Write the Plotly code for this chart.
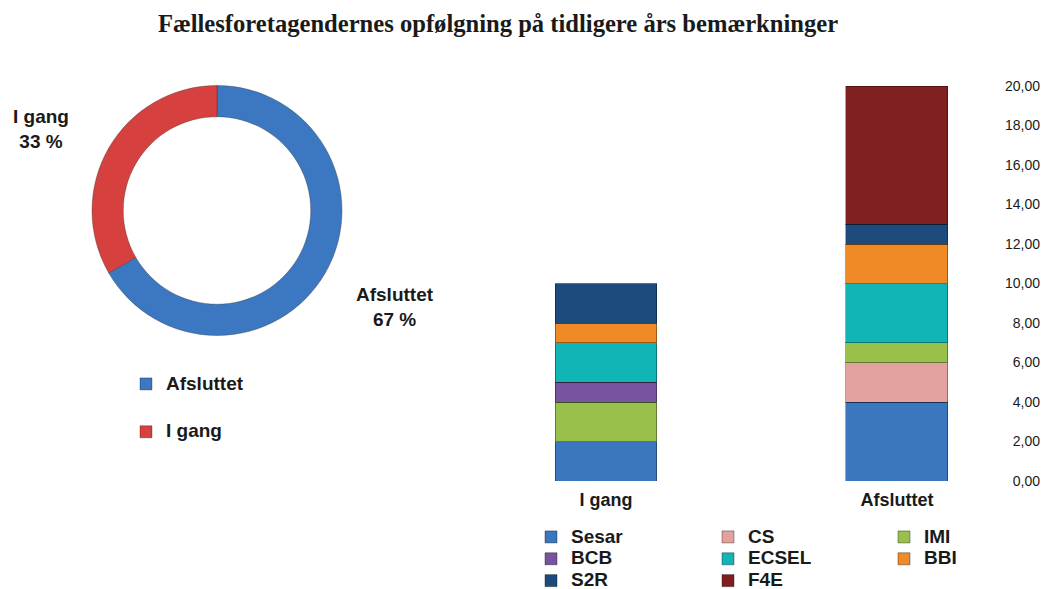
import plotly.graph_objects as go

title = "Fællesforetagendernes opfølgning på tidligere års bemærkninger"

# Donut data
status_labels = ["Afsluttet", "I gang"]
status_values = [20, 10]
status_colors = ["#3b78c1", "#d6413f"]

# Stacked bar data
bar_categories = ["I gang", "Afsluttet"]
series_names = ["Sesar", "CS", "IMI", "BCB", "ECSEL", "BBI", "S2R", "F4E"]
series_values = {
    "Sesar": [2, 4],
    "CS": [0, 2],
    "IMI": [2, 1],
    "BCB": [1, 0],
    "ECSEL": [2, 3],
    "BBI": [1, 2],
    "S2R": [2, 1],
    "F4E": [0, 7],
}
series_colors = {
    "Sesar": "#3a77bf",
    "CS": "#e3a2a0",
    "IMI": "#98c04a",
    "BCB": "#7753a0",
    "ECSEL": "#12b5b5",
    "BBI": "#f08a26",
    "S2R": "#1d4b7d",
    "F4E": "#7f1f1f",
}
legend_slot = {
    "Sesar": "legend2", "BCB": "legend2", "S2R": "legend2",
    "CS": "legend3", "ECSEL": "legend3", "F4E": "legend3",
    "IMI": "legend4", "BBI": "legend4",
}
y_ticks = [0, 2, 4, 6, 8, 10, 12, 14, 16, 18, 20]

W, H = 1056, 589
FONT = "Liberation Sans, Arial, sans-serif"

def px_x(p):
    return p / W

def px_y(p):
    return 1 - p / H

def big(txt, size=19):
    return f'<span style="font-size:{size}px">{txt}</span>'

fig = go.Figure()

# Stacked bars
for name in series_names:
    fig.add_trace(go.Bar(
        x=bar_categories, y=series_values[name], name=big(name),
        marker=dict(color=series_colors[name], line=dict(color="rgba(0,0,0,0.35)", width=1)),
        legend=legend_slot[name],
    ))

# Donut
fig.add_trace(go.Pie(
    labels=status_labels, values=status_values, hole=0.75,
    sort=False, direction="clockwise", rotation=0,
    marker=dict(colors=status_colors, line=dict(color="rgba(40,40,40,0.35)", width=1)),
    textinfo="none", showlegend=False, hoverinfo="label+percent",
    domain=dict(x=[px_x(92), px_x(342)], y=[px_y(336), px_y(85)]),
))

# Legend entries for the donut
for lab, col in zip(status_labels, status_colors):
    fig.add_trace(go.Scatter(
        x=[None], y=[None], mode="markers", name=big(lab),
        marker=dict(symbol="square", size=12, color=col, line=dict(color="rgba(0,0,0,0.3)", width=1)),
        legend="legend", legendgroup=lab, showlegend=True,
    ))

# Percentage labels around donut
total = sum(status_values)
label_pos = {"I gang": (41, 129), "Afsluttet": (395, 307)}
for lab, val in zip(status_labels, status_values):
    xpix, ypix = label_pos[lab]
    fig.add_annotation(
        x=px_x(xpix), y=px_y(ypix), xref="paper", yref="paper",
        xanchor="center", yanchor="middle",
        text=f"<b>{lab}<br>{round(100 * val / total)} %</b>",
        showarrow=False, align="center",
        font=dict(family=FONT, size=19, color="#1a1a1a"),
    )

legend_common = dict(
    orientation="v", bgcolor="rgba(0,0,0,0)", borderwidth=0,
    xanchor="left", yanchor="top", itemclick=False, itemdoubleclick=False,
    font=dict(family=FONT, size=14.5, color="#1a1a1a", weight="bold"), tracegroupgap=0,
    itemwidth=30, traceorder="normal",
)

fig.update_layout(
    width=W, height=H,
    margin=dict(l=0, r=0, t=0, b=0, autoexpand=False),
    paper_bgcolor="white", plot_bgcolor="white",
    separators=",.",
    barmode="stack", bargap=0.65,
    title=dict(
        text=f"<b>{title}</b>", x=px_x(498), xanchor="center", y=px_y(23), yanchor="middle",
        font=dict(family="Liberation Serif, Times New Roman, serif", size=24.6, color="#1a1a1a"),
    ),
    xaxis=dict(
        type="category",
        domain=[px_x(475), px_x(990)], range=[-0.45, 1.32],
        showgrid=False, zeroline=False, showline=False, ticks="",
        tickmode="array", tickvals=bar_categories,
        ticktext=[f"<b>{c}</b>" for c in bar_categories],
        tickfont=dict(family=FONT, size=18, color="#1a1a1a"),
        ticklabelstandoff=6,
    ),
    yaxis=dict(
        domain=[px_y(481), px_y(86)], range=[0, 20],
        anchor="free", position=px_x(1040), side="left",
        showgrid=False, zeroline=False, showline=False, ticks="",
        tickmode="array", tickvals=y_ticks, tickformat=".2f",
        tickfont=dict(family=FONT, size=14, color="#1a1a1a"),
    ),
    legend=dict(legend_common, x=px_x(126), y=px_y(368), traceorder="grouped",
                tracegroupgap=26),
    legend2=dict(legend_common, x=px_x(531), y=px_y(521)),
    legend3=dict(legend_common, x=px_x(708), y=px_y(521)),
    legend4=dict(legend_common, x=px_x(884), y=px_y(521)),
)

fig.write_html("out.html", config={"displayModeBar": False},
               post_script="document.body.style.margin='0';")
